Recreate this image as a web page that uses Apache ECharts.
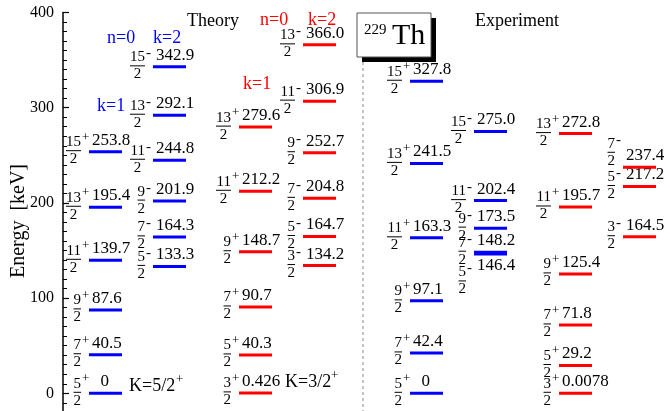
<!DOCTYPE html>
<html>
<head>
<meta charset="utf-8">
<script src="https://cdn.jsdelivr.net/npm/echarts@6/dist/echarts.min.js"></script>
<style>
  html, body { margin: 0; padding: 0; background: #fff; overflow: hidden; }
  #main { width: 670px; height: 500px; }
</style>
</head>
<body>
<div id="main"></div>
<script>
// level data: numerator of spin (J = n/2) and energy in keV
const thA_spin = [5, 7, 9, 11, 13, 15];
const thA_energy = [0, 40.5, 87.6, 139.7, 195.4, 253.8];
const thB_spin = [5, 7, 9, 11, 13, 15];
const thB_energy = [133.3, 164.3, 201.9, 244.8, 292.1, 342.9];
const thC_spin = [3, 5, 7, 9, 11, 13];
const thC_energy = [0.426, 40.3, 90.7, 148.7, 212.2, 279.6];
const thD_spin = [3, 5, 7, 9, 11, 13];
const thD_energy = [134.2, 164.7, 204.8, 252.7, 306.9, 366.0];
const exA_spin = [5, 7, 9, 11, 13, 15];
const exA_energy = [0, 42.4, 97.1, 163.3, 241.5, 327.8];
const exB_spin = [5, 7, 9, 11, 15];
const exB_energy = [146.4, 148.2, 173.5, 202.4, 275.0];
const exC_spin = [3, 5, 7, 9, 11, 13];
const exC_energy = [0.0078, 29.2, 71.8, 125.4, 195.7, 272.8];
const exD_spin = [3, 5, 7];
const exD_energy = [164.5, 217.2, 237.4];

const yTicks = [0, 100, 200, 300, 400];

const BLUE = '#0000ff';
const RED = '#ff0000';
const FONT = '"Liberation Serif", "DejaVu Serif", serif';
const BAR_W = 33;

// column layout (left edge of the level bars, in x-axis units = px)
const columns = [
  { id: 'thA', spin: thA_spin, energy: thA_energy, x: 89,  color: BLUE, parity: '+' },
  { id: 'thB', spin: thB_spin, energy: thB_energy, x: 153, color: BLUE, parity: '-' },
  { id: 'thC', spin: thC_spin, energy: thC_energy, x: 239, color: RED,  parity: '+' },
  { id: 'thD', spin: thD_spin, energy: thD_energy, x: 303, color: RED,  parity: '-' },
  { id: 'exA', spin: exA_spin, energy: exA_energy, x: 410, color: BLUE, parity: '+' },
  { id: 'exB', spin: exB_spin, energy: exB_energy, x: 474, color: BLUE, parity: '-' },
  { id: 'exC', spin: exC_spin, energy: exC_energy, x: 559, color: RED,  parity: '+' },
  { id: 'exD', spin: exD_spin, energy: exD_energy, x: 623, color: RED,  parity: '-' }
];

// a few crowded labels are moved off the standard spot
const labelShift = {
  'exB-5': { fracDy: 28, below: true },
  'exD-7': { fracDy: -14 }
};

function energyText(v) {
  if (v === 0) return '  0';
  if (Number.isInteger(v)) return v.toFixed(1);
  return String(v);
}

function makeRender(col) {
  return function (params, api) {
    const e = api.value(1);
    const n = api.value(2);
    const p0 = api.coord([api.value(0), e]);
    const p1 = api.coord([api.value(0) + BAR_W, e]);
    const sh = labelShift[col.id + '-' + n] || {};
    const dy = sh.fracDy || 0;
    const nx = p0[0] - 8;
    const w = String(n).length * 7.5;
    const by = p0[1];
    return {
      type: 'group',
      children: [
        { type: 'line', shape: { x1: p0[0], y1: by, x2: p1[0], y2: by },
          style: { stroke: col.color, lineWidth: 3 } },
        { type: 'text', style: {
            text: energyText(e), x: p0[0] + 3,
            y: sh.below ? by + 3 : by - 3,
            verticalAlign: sh.below ? 'top' : 'bottom', align: 'left',
            font: '17px ' + FONT, fill: '#000' } },
        { type: 'text', style: {
            text: String(n), x: nx, y: by - 2 + dy, align: 'right', verticalAlign: 'bottom',
            font: '15px ' + FONT, fill: '#000' } },
        { type: 'line', shape: { x1: nx - w, y1: by - 1 + dy, x2: nx, y2: by - 1 + dy },
          style: { stroke: '#000', lineWidth: 1 } },
        { type: 'text', style: {
            text: '2', x: nx - w / 2, y: by + dy, align: 'center', verticalAlign: 'top',
            font: '15px ' + FONT, fill: '#000' } },
        { type: 'text', style: {
            text: col.parity, x: nx + 1, y: by - 21 + dy, align: 'left', verticalAlign: 'top',
            font: (col.parity === '+' ? '13px ' : '15px ') + FONT, fill: '#000' } }
      ]
    };
  };
}

const series = columns.map(function (col) {
  return {
    type: 'custom',
    name: col.id,
    renderItem: makeRender(col),
    encode: { x: 0, y: 1 },
    data: col.energy.map(function (e, i) { return [col.x, e, col.spin[i]]; })
  };
});

function txt(text, x, y, size, color, align) {
  return { type: 'text', x: x, y: y, style: {
    text: text, font: size + 'px ' + FONT, fill: color || '#000',
    align: align || 'left', verticalAlign: 'middle' } };
}

var myChart = echarts.init(document.getElementById('main'));
myChart.setOption({
  animation: false,
  grid: { left: 63, right: 0, top: 12.5, height: 476 },
  xAxis: { type: 'value', min: 63, max: 670, show: false },
  yAxis: {
    type: 'value', min: -100, max: 400, interval: 100,
    axisLine: { show: true, lineStyle: { color: '#000', width: 1.5 } },
    axisTick: { show: true, inside: true, length: 6, lineStyle: { color: '#000', width: 1.2 } },
    minorTick: { show: true, splitNumber: 10, length: 4, lineStyle: { color: '#000', width: 1 } },
    splitLine: { show: false },
    axisLabel: {
      margin: 9, color: '#000', fontSize: 16, fontFamily: FONT,
      formatter: function (v) { return yTicks.indexOf(v) >= 0 ? String(v) : ''; }
    }
  },
  graphic: [
    { type: 'text', x: 19, y: 221, rotation: Math.PI / 2, style: {
        text: 'Energy  [keV]', font: '20px ' + FONT, fill: '#000',
        align: 'center', verticalAlign: 'middle' } },
    { type: 'line', shape: { x1: 363, y1: 62, x2: 363, y2: 411 },
      style: { stroke: '#888', lineWidth: 1, lineDash: [3, 3] } },
    { type: 'rect', shape: { x: 362, y: 18, width: 74, height: 44 }, style: { fill: '#000' } },
    { type: 'rect', shape: { x: 357, y: 13, width: 74, height: 44 },
      style: { fill: '#fff', stroke: '#555', lineWidth: 1 } },
    txt('229', 364, 30, 15),
    txt('Th', 392, 36, 30),
    txt('Theory', 187, 21, 18),
    txt('n=0', 260, 20, 18, RED),
    txt('k=2', 308, 20, 18, RED),
    txt('n=0', 107, 38, 18, BLUE),
    txt('k=2', 153, 38, 18, BLUE),
    txt('k=1', 97, 106, 18, BLUE),
    txt('k=1', 243, 84, 18, RED),
    txt('Experiment', 475, 21, 18),
    txt('K=5/2', 129, 386, 18),
    txt('+', 176, 380, 13),
    txt('K=3/2', 285, 382, 18),
    txt('+', 331, 376, 13)
  ],
  series: series
});
</script>
</body>
</html>
